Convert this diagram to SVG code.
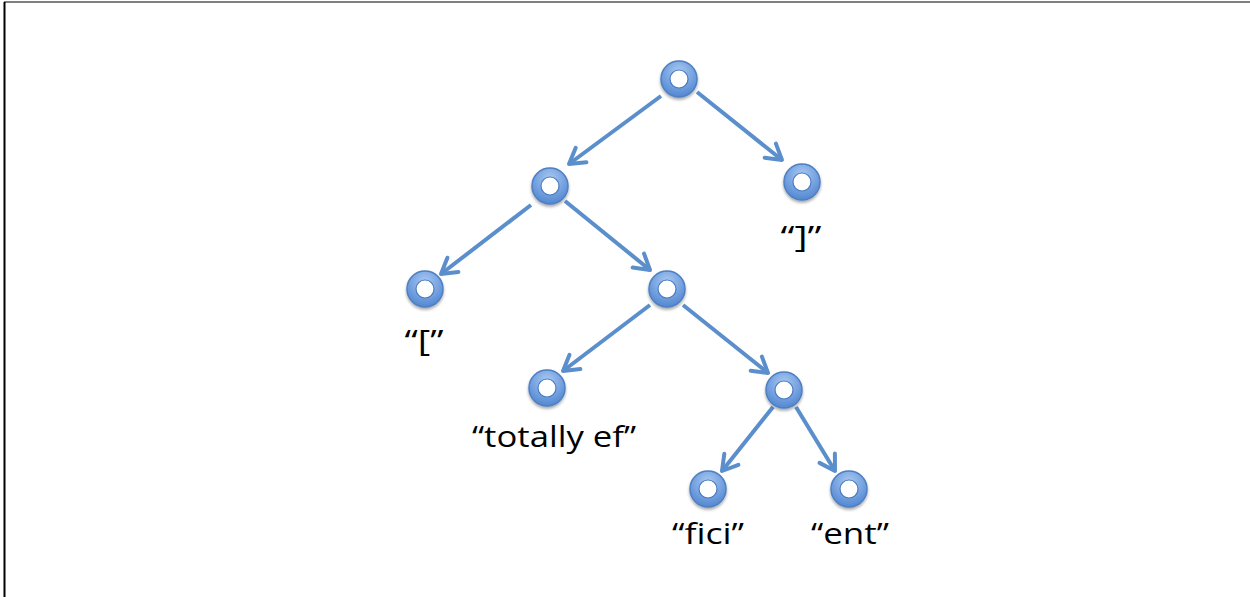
<svg xmlns="http://www.w3.org/2000/svg" width="1250" height="597" viewBox="0 0 1250 597">
<style>
.edge{stroke:#5b8fcc;stroke-width:4;fill:none;marker-end:url(#arr)}
.ring{fill:url(#g);stroke:#4d7fc2;stroke-width:1.5}
.hole{fill:#ffffff;stroke:#4a7cc0;stroke-width:1.2}
.lbl{font-family:"Open Sans","Liberation Sans",Arial,sans-serif;font-size:30px;fill:#000;text-anchor:middle}
</style>
<defs>
<radialGradient id="g" cx="50%" cy="30%" r="70%">
<stop offset="0" stop-color="#a9c8f0"/>
<stop offset="0.6" stop-color="#74a1e0"/>
<stop offset="1" stop-color="#5287cf"/>
</radialGradient>
<filter id="sh" x="-30%" y="-30%" width="160%" height="170%">
<feGaussianBlur in="SourceAlpha" stdDeviation="1.5"/>
<feOffset dy="2" result="b"/>
<feComponentTransfer><feFuncA type="linear" slope="0.35"/></feComponentTransfer>
<feMerge><feMergeNode/><feMergeNode in="SourceGraphic"/></feMerge>
</filter>
<marker id="arr" viewBox="-20 -12 24 24" refX="0" refY="0" markerWidth="24" markerHeight="24" markerUnits="userSpaceOnUse" orient="auto">
<path d="M-15,-9 L0,0 L-15,9" fill="none" stroke="#5b8fcc" stroke-width="4" stroke-linecap="round" stroke-linejoin="round"/>
</marker>
<g id="node"><circle r="18" class="ring"/><circle r="9" class="hole"/></g>
</defs>
<rect width="1250" height="597" fill="#ffffff"/>
<line x1="4" y1="2" x2="1250" y2="2" stroke="#808080" stroke-width="2"/>
<line x1="4.5" y1="2" x2="4.5" y2="597" stroke="#000" stroke-width="2"/>
<g id="connectors">
<line class="edge" x1="661" y1="96" x2="569" y2="164"/>
<line class="edge" x1="697" y1="92" x2="782" y2="160"/>
<line class="edge" x1="531" y1="205" x2="441" y2="274"/>
<line class="edge" x1="565" y1="201" x2="650" y2="270"/>
<line class="edge" x1="650" y1="305" x2="563" y2="371"/>
<line class="edge" x1="683" y1="305" x2="768" y2="373"/>
<line class="edge" x1="773" y1="407" x2="722" y2="471"/>
<line class="edge" x1="796" y1="407" x2="835" y2="471"/>
</g>
<g id="n-root" filter="url(#sh)"><use href="#node" x="679" y="79"/></g>
<g id="n-a" filter="url(#sh)"><use href="#node" x="550" y="186"/></g>
<g id="n-rbr" filter="url(#sh)"><use href="#node" x="802" y="182"/></g>
<g id="n-lbr" filter="url(#sh)"><use href="#node" x="425" y="289"/></g>
<g id="n-b" filter="url(#sh)"><use href="#node" x="667" y="289"/></g>
<g id="n-tot" filter="url(#sh)"><use href="#node" x="547" y="388"/></g>
<g id="n-c" filter="url(#sh)"><use href="#node" x="784" y="390"/></g>
<g id="n-fici" filter="url(#sh)"><use href="#node" x="708" y="489"/></g>
<g id="n-ent" filter="url(#sh)"><use href="#node" x="849" y="489"/></g>
<g id="labels">
<text class="lbl" x="801" y="247" textLength="41" lengthAdjust="spacingAndGlyphs">“]”</text>
<text class="lbl" x="424" y="351" textLength="39" lengthAdjust="spacingAndGlyphs">“[”</text>
<text class="lbl" x="554" y="447" textLength="164" lengthAdjust="spacingAndGlyphs">“totally ef”</text>
<text class="lbl" x="708" y="544" textLength="72" lengthAdjust="spacingAndGlyphs">“fici”</text>
<text class="lbl" x="850" y="544" textLength="78" lengthAdjust="spacingAndGlyphs">“ent”</text>
</g>
</svg>
